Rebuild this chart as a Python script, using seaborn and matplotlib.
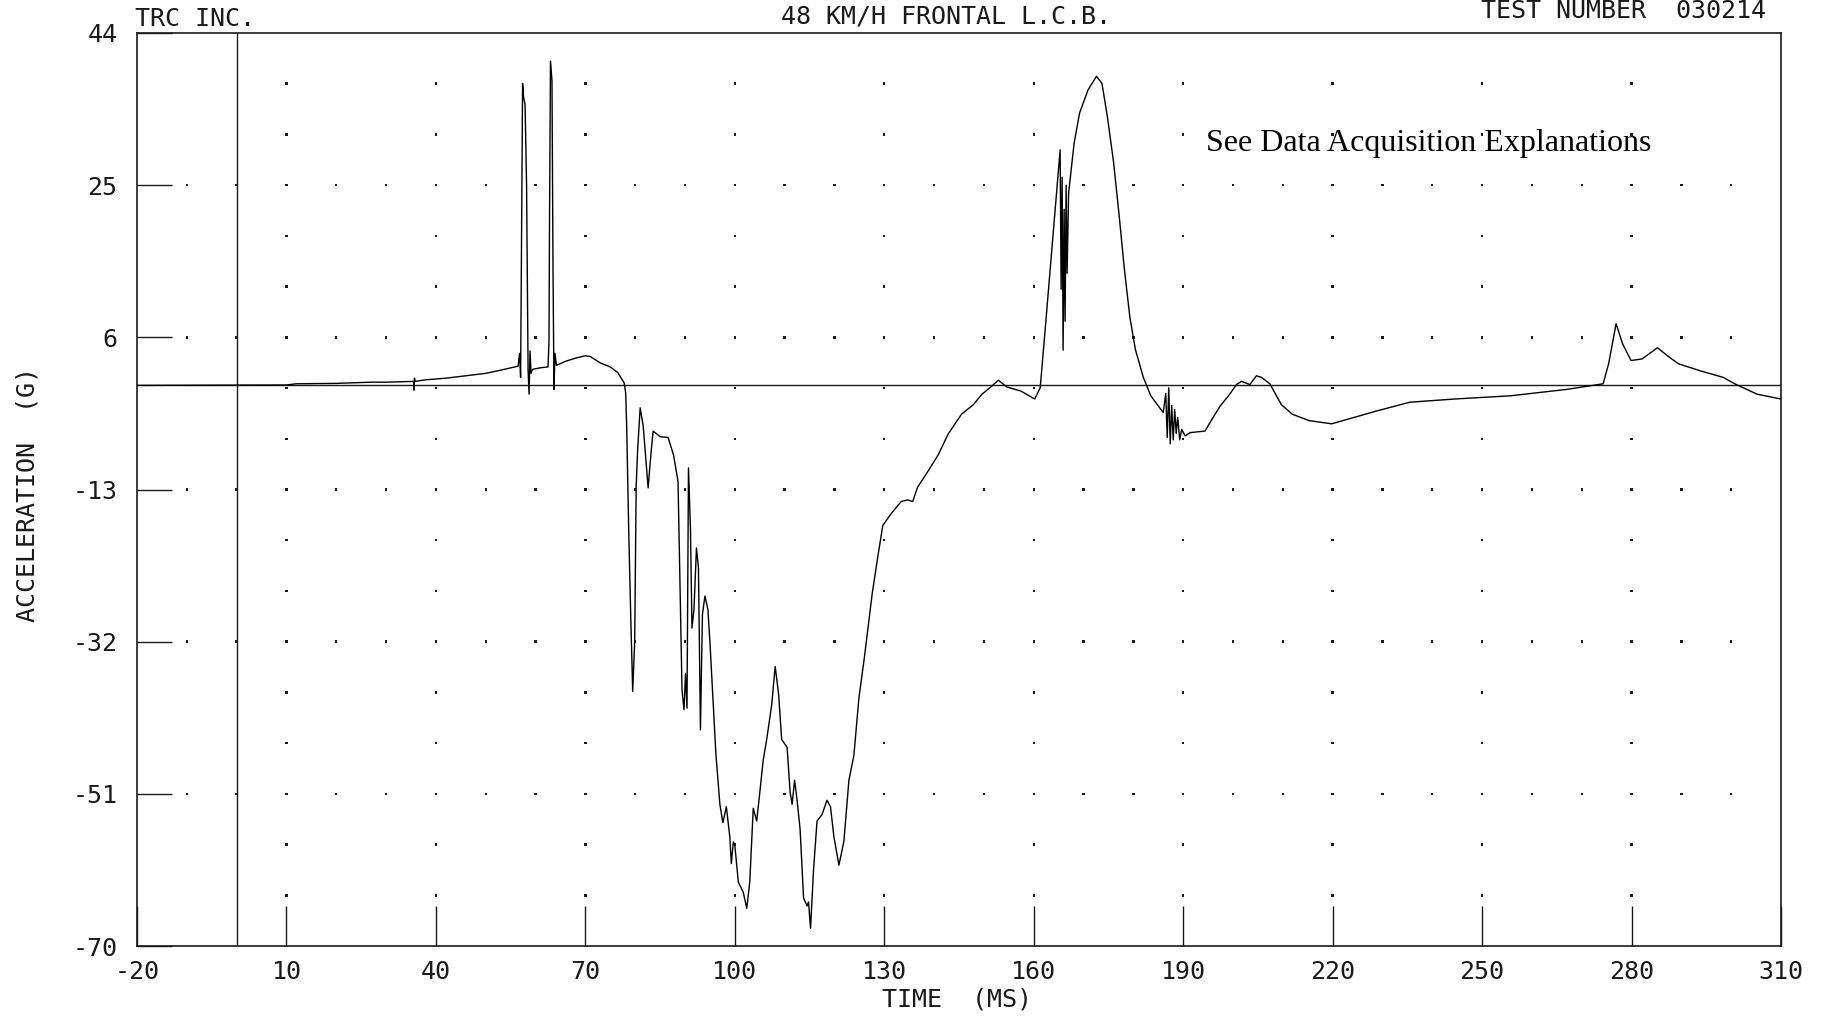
import numpy as np
import pandas as pd
import matplotlib
matplotlib.use("Agg")
import matplotlib.pyplot as plt
import seaborn as sns

# ---------------- data ----------------
time_ms = [
    -20.0, 10.0, 12.0, 20.0, 27.0, 30.0, 35.5, 35.6, 35.7, 35.8, 38.0, 42.0,
    46.0, 50.0, 53.0, 56.5, 56.8, 57.0, 57.2, 57.4, 57.6, 57.9, 58.2, 58.5,
    58.7, 58.9, 59.1, 59.4, 61.0, 62.5, 62.7, 62.8, 63.0, 63.3, 63.5, 63.7,
    63.9, 64.2, 66.0, 68.0, 70.0, 71.0, 73.0, 75.0, 76.5, 77.8, 78.1, 78.3,
    78.7, 79.1, 79.5, 79.9, 80.2, 80.5, 81.0, 81.6, 82.6, 83.1, 83.6, 85.0,
    86.6, 87.7, 88.6, 89.4, 89.8, 90.1, 90.4, 90.7, 91.1, 91.4, 91.8, 92.3,
    92.7, 93.1, 93.5, 94.0, 94.6, 95.0, 96.2, 97.0, 97.6, 98.3, 99.0, 99.3,
    99.7, 100.0, 100.7, 101.7, 102.4, 103.0, 103.7, 104.4, 105.1, 105.7,
    106.4, 107.4, 108.1, 108.8, 109.4, 110.5, 111.1, 111.5, 112.0, 112.5,
    113.1, 113.8, 114.5, 114.8, 115.2, 115.8, 116.5, 117.5, 118.5, 119.2,
    119.9, 120.9, 121.9, 122.9, 123.9, 124.9, 126.0, 126.6, 127.6, 128.7,
    129.7, 131.4, 133.4, 134.7, 135.7, 136.7, 138.8, 140.8, 142.8, 145.5,
    147.9, 149.6, 151.2, 152.9, 154.6, 157.4, 160.2, 161.3, 162.3, 163.3,
    164.3, 165.3, 165.5, 165.7, 165.9, 166.1, 166.3, 166.5, 166.7, 167.0,
    168.1, 169.2, 170.9, 172.6, 173.7, 174.8, 176.0, 177.1, 178.2, 179.3,
    180.4, 182.0, 183.5, 186.0, 186.5, 186.8, 187.1, 187.4, 187.7, 188.0,
    188.3, 188.6, 188.9, 189.3, 189.7, 190.4, 191.4, 194.4, 195.7, 197.4,
    199.1, 200.7, 201.7, 203.4, 204.7, 205.7, 207.4, 209.7, 211.9, 215.3,
    219.8, 224.3, 228.8, 235.5, 244.5, 255.7, 267.0, 274.3, 275.4, 276.9,
    278.2, 279.9, 282.1, 285.2, 287.2, 289.4, 293.9, 298.4, 300.7, 305.2,
    310.0,
]
accel_g = [
    0.0, 0.05, 0.2, 0.25, 0.4, 0.4, 0.5, -0.6, 0.9, 0.5, 0.7, 0.9,
    1.2, 1.5, 1.9, 2.4, 4.0, 1.0, 20.0, 37.7, 36.0, 35.0, 25.0, 2.0,
    -1.1, 4.3, 1.5, 2.0, 2.2, 2.3, 5.5, 20.0, 40.5, 38.0, 15.0, -0.5,
    4.0, 2.5, 3.0, 3.4, 3.7, 3.6, 2.8, 2.3, 1.6, 0.3, -1.0, -5.3,
    -18.0, -28.6, -38.2, -32.0, -12.6, -8.0, -2.8, -5.0, -12.8, -9.0, -5.7, -6.4,
    -6.5, -8.7, -12.0, -38.0, -40.5, -36.0, -40.3, -10.3, -18.0, -30.3, -28.0, -20.3,
    -22.8, -43.0, -28.6, -26.3, -28.0, -32.0, -46.0, -52.3, -54.6, -52.6, -56.4, -59.7,
    -57.0, -57.4, -62.0, -63.3, -65.3, -62.0, -52.8, -54.4, -50.3, -46.8,
    -44.2, -39.9, -35.1, -38.6, -44.2, -45.2, -50.8, -52.3, -49.3, -51.8,
    -55.4, -64.0, -65.0, -64.5, -67.8, -60.5, -54.4, -53.6, -51.8, -52.6,
    -56.4, -59.9, -56.9, -49.3, -46.2, -39.1, -34.0, -31.0, -25.9, -21.4,
    -17.5, -16.0, -14.5, -14.3, -14.5, -12.7, -10.7, -8.7, -6.1, -3.6,
    -2.4, -1.1, -0.3, 0.65, -0.2, -0.7, -1.7, -0.3, 7.0, 14.5,
    22.0, 29.4, 12.0, 26.0, 4.4, 22.0, 8.0, 25.0, 14.0, 24.0,
    30.2, 34.0, 36.9, 38.6, 37.7, 33.5, 28.0, 21.5, 14.5, 8.5,
    4.5, 1.0, -1.3, -3.4, -1.0, -6.5, -0.3, -7.3, -2.5, -6.8,
    -3.0, -6.0, -4.0, -6.8, -5.5, -6.3, -5.9, -5.7, -4.3, -2.6,
    -1.3, 0.1, 0.5, 0.1, 1.2, 1.0, 0.2, -2.4, -3.6, -4.4,
    -4.8, -4.0, -3.2, -2.1, -1.7, -1.3, -0.5, 0.2, 2.7, 7.7,
    5.2, 3.1, 3.3, 4.7, 3.7, 2.7, 1.8, 1.0, 0.2, -1.1,
    -1.7,
]

x_ticks = [-20, 10, 40, 70, 100, 130, 160, 190, 220, 250, 280, 310]
y_ticks = [-70, -51, -32, -13, 6, 25, 44]
dot_row_y = [-51, -32, -13, 6, 25]
dot_row_x = [-10, 0, 10, 20, 30, 40, 50, 60, 70, 80, 90, 100, 110, 120, 130,
             140, 150, 160, 170, 180, 190, 200, 210, 220, 230, 240, 250, 260,
             270, 280, 290, 300]
dot_col_x = [10, 40, 70, 100, 130, 160, 190, 220, 250, 280]
dot_col_y = [-63.67, -57.33, -51, -44.67, -38.33, -32, -25.67, -19.33, -13,
             -6.67, -0.33, 6, 12.33, 18.67, 25, 31.33, 37.67]

title_left = "TRC INC."
title_mid = "48 KM/H FRONTAL L.C.B."
title_right = "TEST NUMBER  030214"
note_text = "See Data Acquisition Explanations"
x_label = "TIME  (MS)"
y_label = "ACCELERATION  (G)"

# ---------------- figure ----------------
sns.set_style("white")
plt.rcParams["font.family"] = ["DejaVu Sans Mono", "DejaVu Sans"]
ink = "#1a1a1a"

W, H = 1825, 1016
fig = plt.figure(figsize=(W / 100, H / 100), dpi=100)
L, R, T, B = 137, 1781, 33, 946
ax = fig.add_axes([L / W, 1 - B / H, (R - L) / W, (B - T) / H])

curve = pd.DataFrame({"time": time_ms, "accel": accel_g})
dots_a = pd.DataFrame([(x, y) for y in dot_row_y for x in dot_row_x], columns=["x", "y"])
dots_b = pd.DataFrame([(x, y) for x in dot_col_x for y in dot_col_y], columns=["x", "y"])
dots = pd.concat([dots_a, dots_b], ignore_index=True).drop_duplicates()

sns.scatterplot(data=dots, x="x", y="y", ax=ax, s=3, color=ink, edgecolor="none",
                marker="s", legend=False, zorder=1)
ax.axhline(0, color=ink, lw=1.0, zorder=2)
ax.axvline(0, color=ink, lw=1.0, zorder=2)
sns.lineplot(data=curve, x="time", y="accel", ax=ax, estimator=None, sort=False,
             color="black", lw=1.0, zorder=3)

ax.set_xlim(-20, 310)
ax.set_ylim(-70, 44)
ax.set_xticks(x_ticks)
ax.set_yticks(y_ticks)
ax.set_xticklabels([str(v) for v in x_ticks])
ax.set_yticklabels([str(v) for v in y_ticks])
ax.tick_params(axis="both", direction="in", width=1.0, color=ink,
               labelsize=18, labelcolor=ink, bottom=True, left=True,
               top=False, right=False)
ax.tick_params(axis="x", length=29, pad=10)
ax.tick_params(axis="y", length=25, pad=14)
for s in ax.spines.values():
    s.set_color(ink)
    s.set_linewidth(1.2)
ax.set_xlabel(x_label, fontsize=18, color=ink, va="center")
ax.set_ylabel(y_label, fontsize=18, color=ink, va="center")
ax.xaxis.set_label_coords(0.4988, (946 - 999) / 913)
ax.yaxis.set_label_coords((28 - 137) / 1644, 0.494)
ax.grid(False)

fig.text(135 / W, 1 - 19 / H, title_left, ha="left", va="center", fontsize=18, color=ink)
fig.text(946 / W, 1 - 16 / H, title_mid, ha="center", va="center", fontsize=18, color=ink)
fig.text(1766 / W, 1 - 11 / H, title_right, ha="right", va="center", fontsize=18, color=ink)
fig.text(1206 / W, 1 - 143 / H, note_text, ha="left", va="center", fontsize=23,
         family="Liberation Serif", color="black")

fig.savefig("out.png", dpi=100, facecolor="white")
